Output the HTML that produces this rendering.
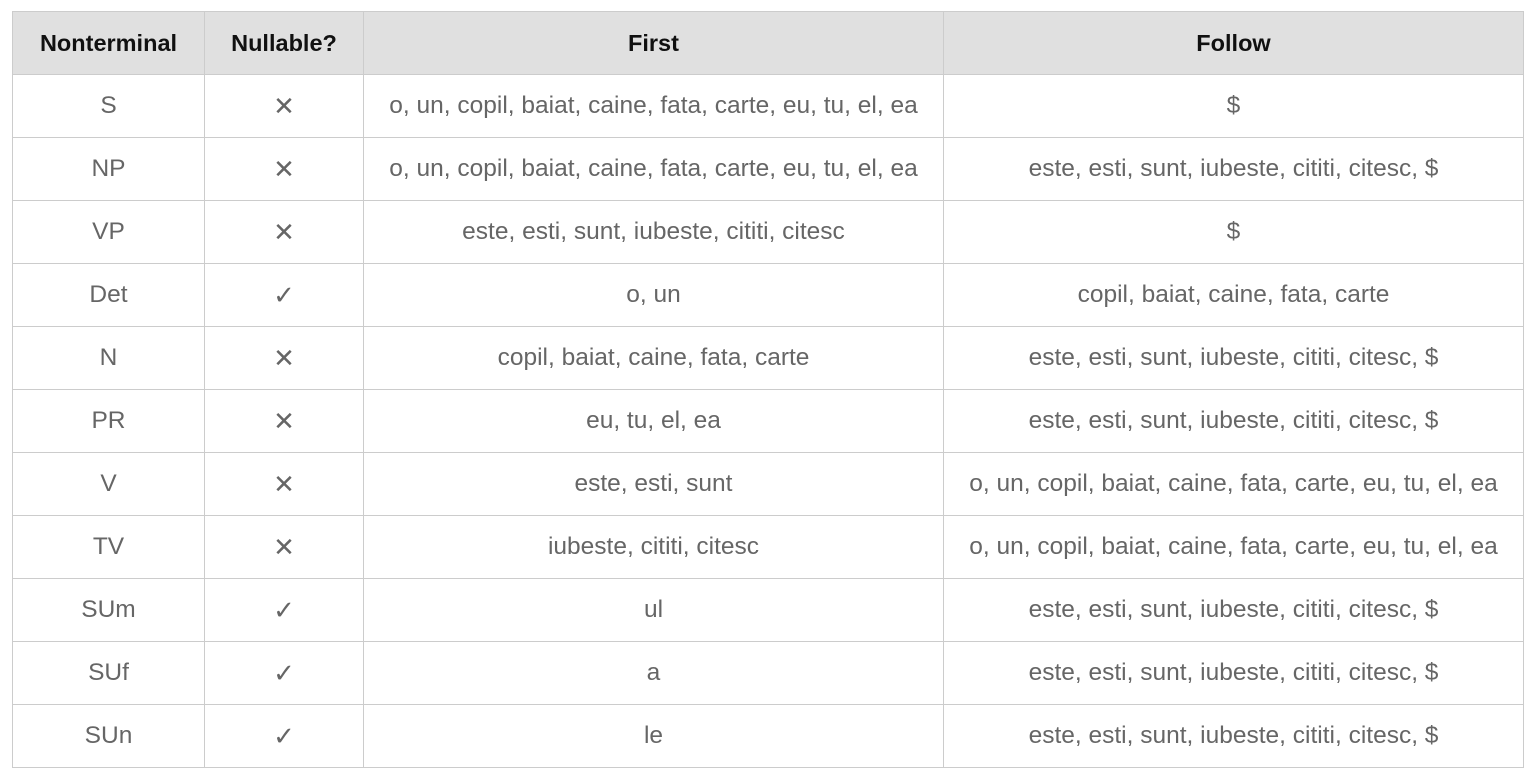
<!DOCTYPE html>
<html><head><style>
body{margin:0;background:#fff;width:1535px;height:776px;overflow:hidden;font-family:"Liberation Sans",Arial,sans-serif}
table{position:absolute;left:12px;top:11px;border-collapse:collapse;table-layout:fixed;width:1511px}
td,th{border:1px solid #cccccc;text-align:center;padding:0;height:62px;line-height:20px;font-size:24.5px;color:#666}
th{background:#e0e0e0;color:#111;font-weight:bold;font-size:23.5px}
td.s{font-size:26px}
</style></head><body>
<table>
<colgroup><col style="width:192px"><col style="width:159px"><col style="width:580px"><col style="width:580px"></colgroup>
<tr><th>Nonterminal</th><th>Nullable?</th><th>First</th><th>Follow</th></tr>
<tr><td>S</td><td class="s">✕</td><td>o, un, copil, baiat, caine, fata, carte, eu, tu, el, ea</td><td>$</td></tr>
<tr><td>NP</td><td class="s">✕</td><td>o, un, copil, baiat, caine, fata, carte, eu, tu, el, ea</td><td>este, esti, sunt, iubeste, cititi, citesc, $</td></tr>
<tr><td>VP</td><td class="s">✕</td><td>este, esti, sunt, iubeste, cititi, citesc</td><td>$</td></tr>
<tr><td>Det</td><td class="s">✓</td><td>o, un</td><td>copil, baiat, caine, fata, carte</td></tr>
<tr><td>N</td><td class="s">✕</td><td>copil, baiat, caine, fata, carte</td><td>este, esti, sunt, iubeste, cititi, citesc, $</td></tr>
<tr><td>PR</td><td class="s">✕</td><td>eu, tu, el, ea</td><td>este, esti, sunt, iubeste, cititi, citesc, $</td></tr>
<tr><td>V</td><td class="s">✕</td><td>este, esti, sunt</td><td>o, un, copil, baiat, caine, fata, carte, eu, tu, el, ea</td></tr>
<tr><td>TV</td><td class="s">✕</td><td>iubeste, cititi, citesc</td><td>o, un, copil, baiat, caine, fata, carte, eu, tu, el, ea</td></tr>
<tr><td>SUm</td><td class="s">✓</td><td>ul</td><td>este, esti, sunt, iubeste, cititi, citesc, $</td></tr>
<tr><td>SUf</td><td class="s">✓</td><td>a</td><td>este, esti, sunt, iubeste, cititi, citesc, $</td></tr>
<tr><td>SUn</td><td class="s">✓</td><td>le</td><td>este, esti, sunt, iubeste, cititi, citesc, $</td></tr>
</table>
</body></html>
